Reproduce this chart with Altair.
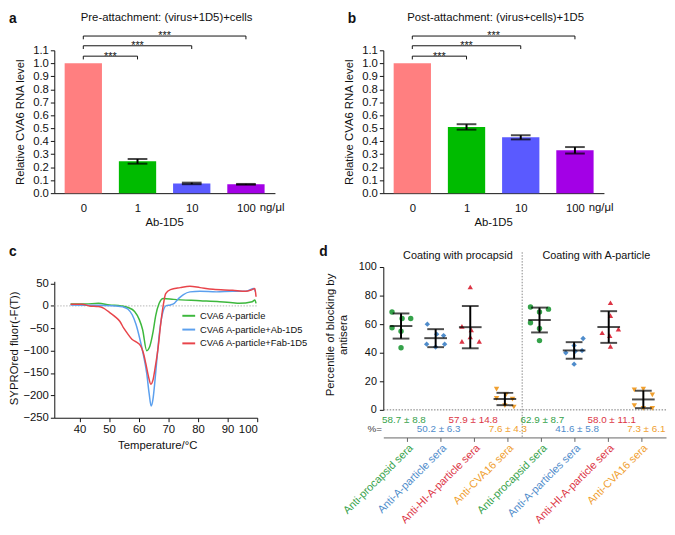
import altair as alt
import pandas as pd

FONT = "Liberation Sans"
INK = "#111111"

# ---------------- panels a / b ----------------
doses = ["0", "1", "10", "100"]
pre_mean = [1.0, 0.245, 0.075, 0.068]
pre_err = [0.0, 0.018, 0.006, 0.003]
post_mean = [1.0, 0.51, 0.43, 0.33]
post_err = [0.0, 0.021, 0.016, 0.025]
bar_colors = ["#FF7F80", "#00BB00", "#5A5AFF", "#A300E6"]
sig_to = [1, 2, 3]
sig_level = [1.055, 1.135, 1.21]
sig_text = ["***", "***", "***"]

# ---------------- panel c ----------------
series_names = ["CVA6 A-particle", "CVA6 A-particle+Ab-1D5", "CVA6 A-particle+Fab-1D5"]
series_colors = ["#3DB83D", "#5CA0EE", "#E8444A"]
green_T = [37, 42, 46.4, 50.1, 54.1, 56.4, 58.6, 60.2, 61.3, 62.7, 63.8, 64.9, 65.7, 66.9, 68.3,
           71.8, 80.7, 87.3, 91.7, 93.9, 98.3, 99.2, 99.6]
green_F = [4.4, 4.4, 5.8, 2.2, 0, -3.6, -12.4, -30.7, -52.6, -100, -89, -56, -23, 5.8, 16.8,
           14.6, 11.7, 9.5, 7.3, 5.8, 9.5, 13.1, 5.8]
blue_T = [37, 46.4, 51.9, 54.7, 56.4, 57.8, 59.1, 60.4, 61.5, 62.7, 63.5, 64.2, 64.8, 65.5, 66.3,
          67.2, 68.2, 69.3, 70.7, 72, 73.5, 75.1, 77.3, 80.7, 86.2, 91.7, 96.1, 98.9, 99.4]
blue_F = [2.2, 1.5, 0, -2.2, -7.3, -19.7, -41.6, -74.5, -107, -151, -195, -224, -209, -166, -107,
          -49, -12.4, 0.7, 2.2, 5.8, 16.8, 25.5, 31.4, 32.8, 31.4, 32.8, 32.8, 38.7, 31.4]
red_T = [37, 40.9, 43.3, 46.4, 48.1, 49.7, 51.9, 53.6, 55.0, 56.4, 57.7, 59.1, 60.6, 61.5, 62.4,
         63.3, 64.1, 64.8, 65.5, 66.5, 67.4, 68.3, 69.1, 70.7, 74, 77.3, 80.7, 85.1, 91.7, 96.1,
         98.3, 99.2, 99.6]
red_F = [3.6, 3.6, 0, -1.5, -5.1, -12.4, -23.4, -34.3, -50.4, -63.5, -74.5, -80.3, -89, -103.6,
         -129, -158, -175, -166, -140, -96, -41.6, 2.2, 27.7, 36.5, 40.9, 43.8, 40.9, 37.2, 35,
         32.8, 36.5, 38.7, 20.4]

# ---------------- panel d ----------------
sera = ["Anti-procapsid sera", "Anti-A-particle sera", "Anti-HI-A-particle sera", "Anti-CVA16 sera",
        "Anti-procapsid sera", "Anti-A-particles sera", "Anti-HI-A-particle sera", "Anti-CVA16 sera"]
sera_colors = ["#35A24A", "#4F8CCB", "#DC3545", "#F0A030"] * 2
sera_shapes = ["circle", "diamond", "triangle-up", "triangle-down"] * 2
coating = ["Coating with procapsid", "Coating with A-particle"]
blk_mean = [58.7, 50.2, 57.9, 7.6, 62.9, 41.6, 58.0, 7.3]
blk_sd = [8.8, 6.3, 14.8, 4.3, 8.7, 5.8, 11.1, 6.1]
blk_vals = [
    [68.5, 64, 64, 57.5, 55, 43.5],
    [60, 46, 44, 46, 53, 52],
    [86, 58.5, 56, 48, 48, 51],
    [14.5, 10.5, 7.5, 8, 3, 2],
    [72, 68.5, 70.5, 61, 57, 48.5],
    [50, 45, 40, 41, 41.5, 32],
    [75, 66, 54, 56.5, 52, 44.5],
    [14, 14.5, 10.5, 3, 1, 1],
]
blk_jit = [
    [-0.26, 0.03, 0.28, -0.26, 0, 0],
    [-0.24, -0.26, 0, 0.26, 0.03, 0.23],
    [0, -0.24, 0.03, -0.24, 0.26, 0],
    [-0.24, 0.03, 0.22, -0.24, 0, 0.26],
    [-0.26, 0, 0.26, -0.26, 0, 0],
    [0.26, 0, -0.24, 0.03, 0.23, 0],
    [0.05, 0.05, -0.19, 0.28, 0.03, 0.05],
    [-0.26, 0, 0.26, -0.26, 0, 0.26],
]


def txt(t, x, y, size=11.5, **kw):
    color = kw.pop("color", INK)
    return alt.Chart(pd.DataFrame({"t": [t]})).mark_text(
        fontSize=size, font=FONT, color=color, **kw
    ).encode(text="t:N", x=alt.value(x), y=alt.value(y))


def letter(t, x, y):
    return txt(t, x, y, size=14, fontWeight="bold", align="left", baseline="alphabetic")


# ======================= bar panels =======================
BAR_HALF = 0.344


def bar_panel(title, means, errs, let, let_x):
    df = pd.DataFrame({"i": list(range(len(doses))), "m": means, "e": errs, "col": bar_colors})
    df["x1"] = df["i"] - BAR_HALF
    df["x2"] = df["i"] + BAR_HALF
    df["lo"] = df["m"] - df["e"]
    df["hi"] = df["m"] + df["e"]
    xs = alt.Scale(domain=[-0.535, 3.535], nice=False, zero=False)
    ys = alt.Scale(domain=[0, 1.1], nice=False, zero=False)
    lab = "[" + ",".join("'%s'" % d for d in doses) + "][datum.value]"
    xax = alt.Axis(values=list(range(len(doses))), labelExpr=lab, title=None, grid=False,
                   ticks=False, tickSize=0, labelPadding=10, labelFontSize=11.5, labelColor=INK,
                   domainColor=INK, labelFont=FONT)
    yax = alt.Axis(values=[round(0.1 * k, 1) for k in range(12)], format=".1f", title=None,
                   grid=False, tickSize=4, labelPadding=2, labelFontSize=11.5, labelColor=INK,
                   domainColor=INK, tickColor=INK, labelFont=FONT)
    base = alt.Chart(df)
    bars = base.mark_bar().encode(
        x=alt.X("x1:Q", scale=xs, axis=xax), x2="x2:Q",
        y=alt.Y("m:Q", scale=ys, axis=yax), y2=alt.datum(0),
        color=alt.Color("col:N", scale=None))
    ebase = alt.Chart(df[df["e"] > 0])
    erule = ebase.mark_rule(strokeWidth=2, color="black").encode(
        x=alt.X("i:Q", scale=xs, axis=xax), y=alt.Y("lo:Q", scale=ys, axis=yax), y2="hi:Q")
    ecap = ebase.transform_fold(["lo", "hi"], as_=["k", "v"]).mark_tick(
        orient="horizontal", size=20, thickness=2, color="black").encode(
        x=alt.X("i:Q", scale=xs, axis=xax), y=alt.Y("v:Q", scale=ys, axis=yax))

    bdf = pd.DataFrame({"x0": [0] * len(sig_to), "x1": sig_to, "y": sig_level, "t": sig_text})
    bdf["yl"] = bdf["y"] - 0.025
    bdf["xm"] = (bdf["x0"] + bdf["x1"]) / 2
    bb = alt.Chart(bdf)
    bh = bb.mark_rule(color=INK, strokeWidth=1).encode(
        x=alt.X("x0:Q", scale=xs, axis=xax), x2="x1:Q", y=alt.Y("y:Q", scale=ys, axis=yax))
    bl = bb.mark_rule(color=INK, strokeWidth=1).encode(
        x=alt.X("x0:Q", scale=xs, axis=xax), y=alt.Y("y:Q", scale=ys, axis=yax), y2="yl:Q")
    br = bb.mark_rule(color=INK, strokeWidth=1).encode(
        x=alt.X("x1:Q", scale=xs, axis=xax), y=alt.Y("y:Q", scale=ys, axis=yax), y2="yl:Q")
    bs = bb.mark_text(fontSize=11, font=FONT, color=INK, baseline="alphabetic", dy=3.5).encode(
        x=alt.X("xm:Q", scale=xs, axis=xax), y=alt.Y("y:Q", scale=ys, axis=yax), text="t:N")

    unit = alt.Chart(pd.DataFrame({"i": [len(doses) - 1], "t": ["ng/\u03bcl"]})).mark_text(
        fontSize=11.5, font=FONT, color=INK, align="left", baseline="middle", dx=14).encode(
        x=alt.X("i:Q", scale=xs, axis=xax), y=alt.value(160.6), text="t:N")

    return alt.layer(
        bars, erule, ecap, bh, bl, br, bs, unit,
        txt(title, 114, -32.7, size=11.5, baseline="middle"),
        txt("Relative CVA6 RNA level", -33.5, 73, angle=270, baseline="middle"),
        txt("Ab-1D5", 112, 175.6, baseline="middle"),
        letter(let, let_x, -27.3),
    ).properties(width=224, height=145)


pa = bar_panel("Pre-attachment: (virus+1D5)+cells", pre_mean, pre_err, "a", -46)
pb = bar_panel("Post-attachment: (virus+cells)+1D5", post_mean, post_err, "b", -36)

# ======================= panel c =======================
rows = []
for name, T, F in zip(series_names, [green_T, blue_T, red_T], [green_F, blue_F, red_F]):
    for t, f in zip(T, F):
        rows.append({"s": name, "T": t, "F": f})
cdf = pd.DataFrame(rows)
cxs = alt.Scale(domain=[31.5, 100], range=[0, 206], nice=False, zero=False)
cys = alt.Scale(domain=[-250, 55], range=[153, 14.5], nice=False, zero=False)
cxax = alt.Axis(values=list(range(40, 101, 10)), title=None, grid=False, tickSize=4, labelPadding=2,
                labelFontSize=11.5, labelColor=INK, domainColor=INK, tickColor=INK, labelFont=FONT)
cyax = alt.Axis(values=list(range(-250, 51, 50)), title=None, grid=False, tickSize=4, labelPadding=2,
                labelFontSize=11.5, labelColor=INK, domainColor=INK, tickColor=INK, labelFont=FONT)
zero_c = alt.Chart(pd.DataFrame({"a": [31.5], "b": [100], "z": [0]})).mark_rule(
    color="#b5b5b5", strokeDash=[1.5, 1.5], strokeWidth=1).encode(
    x=alt.X("a:Q", scale=cxs, axis=cxax), x2="b:Q", y=alt.Y("z:Q", scale=cys, axis=cyax))
clines = alt.Chart(cdf).mark_line(strokeWidth=1.5, interpolate="monotone").encode(
    x=alt.X("T:Q", scale=cxs, axis=cxax),
    y=alt.Y("F:Q", scale=cys, axis=cyax),
    color=alt.Color("s:N", scale=alt.Scale(domain=series_names, range=series_colors),
                    legend=alt.Legend(title=None, orient="none", legendX=129, legendY=42,
                                      symbolType="stroke", symbolSize=169, symbolStrokeWidth=2,
                                      labelFontSize=9.5, labelFont=FONT, labelColor=INK,
                                      rowPadding=2, padding=0, labelOffset=4)),
    detail="s:N")
pc = alt.layer(
    zero_c, clines,
    txt("SYPROred fluor(-F(T))", -40.3, 82.5, angle=270, baseline="middle"),
    txt("Temperature/\u00b0C", 105, 181.5, baseline="middle"),
    letter("c", -46, -11.3),
).properties(width=268, height=153)

# ======================= panel d =======================
prow = []
for g, (vals, jit) in enumerate(zip(blk_vals, blk_jit)):
    for v, j in zip(vals, jit):
        prow.append({"x": g + j, "v": v, "shp": sera_shapes[g], "col": sera_colors[g]})
pdf = pd.DataFrame(prow)
sdf = pd.DataFrame({"g": list(range(len(sera))), "m": blk_mean, "sd": blk_sd, "col": sera_colors})
sdf["lo"] = sdf["m"] - sdf["sd"]
sdf["hi"] = sdf["m"] + sdf["sd"]
sdf["stat"] = ["%.1f \u00b1 %.1f" % (m, s) for m, s in zip(blk_mean, blk_sd)]
sdf["row"] = sdf["g"] % 2
ldf = pd.DataFrame({"k": list(range(len(sera))), "lab": sera, "col": sera_colors})

gxs = alt.Scale(domain=[-0.512, 7.655], nice=False, zero=False)
txs = alt.Scale(domain=[-0.715, 7.726], nice=False, zero=False)
dys = alt.Scale(domain=[0, 100], range=[145, 0], nice=False, zero=False)
dyax = alt.Axis(values=list(range(0, 101, 20)), title=None, grid=False, tickSize=4, labelPadding=3,
                labelFontSize=11, labelColor=INK, domainColor=INK, tickColor=INK, labelFont=FONT)
dxax = alt.Axis(values=list(range(len(sera))), labels=False, title=None, grid=False, tickSize=4,
                domainColor="#666", tickColor="#666", orient="bottom")

zero_d = alt.Chart(pd.DataFrame({"z": [0]})).mark_rule(
    color="#777", strokeDash=[1.5, 1.5], strokeWidth=1).encode(
    y=alt.Y("z:Q", scale=dys, axis=dyax))
sep = alt.Chart(pd.DataFrame({"s": [3.5]})).mark_rule(
    color="#888", strokeDash=[1.5, 1.5], strokeWidth=1).encode(
    x=alt.X("s:Q", scale=gxs, axis=None), y=alt.value(-15), y2=alt.value(173))
pts = alt.Chart(pdf).mark_point(filled=True, size=30, opacity=1).encode(
    x=alt.X("x:Q", scale=gxs, axis=None),
    y=alt.Y("v:Q", scale=dys, axis=dyax),
    shape=alt.Shape("shp:N", scale=None),
    color=alt.Color("col:N", scale=None))
sb = alt.Chart(sdf)
mean_t = sb.mark_tick(orient="horizontal", size=23, thickness=2, color="black").encode(
    x=alt.X("g:Q", scale=gxs, axis=None), y=alt.Y("m:Q", scale=dys, axis=dyax))
sd_r = sb.mark_rule(strokeWidth=2, color="black").encode(
    x=alt.X("g:Q", scale=gxs, axis=None), y=alt.Y("lo:Q", scale=dys, axis=dyax), y2="hi:Q")
sd_c = sb.transform_fold(["lo", "hi"], as_=["k", "v"]).mark_tick(
    orient="horizontal", size=17, thickness=2, color="black").encode(
    x=alt.X("g:Q", scale=gxs, axis=None), y=alt.Y("v:Q", scale=dys, axis=dyax))
st0 = sb.transform_filter("datum.row == 0").mark_text(
    fontSize=10, font=FONT, baseline="middle", dx=3).encode(
    x=alt.X("g:Q", scale=gxs, axis=None), y=alt.value(155), text="stat:N",
    color=alt.Color("col:N", scale=None))
st1 = sb.transform_filter("datum.row == 1").mark_text(
    fontSize=10, font=FONT, baseline="middle", dx=3).encode(
    x=alt.X("g:Q", scale=gxs, axis=None), y=alt.value(164.4), text="stat:N",
    color=alt.Color("col:N", scale=None))
coat = alt.Chart(pd.DataFrame({"x": [1.5, 5.5], "t": coating})).mark_text(
    fontSize=11, font=FONT, color=INK, baseline="middle", dx=5).encode(
    x=alt.X("x:Q", scale=gxs, axis=None), y=alt.value(-11.6), text="t:N")
labs = alt.Chart(ldf).mark_text(
    fontSize=11, font=FONT, angle=315, align="right", baseline="top").encode(
    x=alt.X("k:Q", scale=txs, axis=dxax), y=alt.value(178), text="lab:N",
    color=alt.Color("col:N", scale=None))

pdd = alt.layer(
    zero_d, sep, pts, sd_r, mean_t, sd_c, st0, st1, coat, labs,
    txt("%=", -8.7, 164.4, size=10, color="#444", baseline="middle"),
    txt("Percentile of blocking by", -53.4, 69, angle=270, baseline="middle"),
    txt("antisera", -40, 69, angle=270, baseline="middle"),
    letter("d", -65, -11.3),
).resolve_scale(x="independent").properties(width=287, height=173)

chart = alt.concat(
    pa, pb, pc, pdd, columns=2, spacing={"row": 75, "column": 66}
).properties(
    align="none", bounds="flush", padding=0
).resolve_scale(
    color="independent", shape="independent"
).resolve_legend(
    color="independent"
).configure_view(stroke=None).configure_axis(grid=False, domainWidth=1, tickWidth=1)

chart.save("out.html", embed_options={"renderer": "svg", "actions": False})
